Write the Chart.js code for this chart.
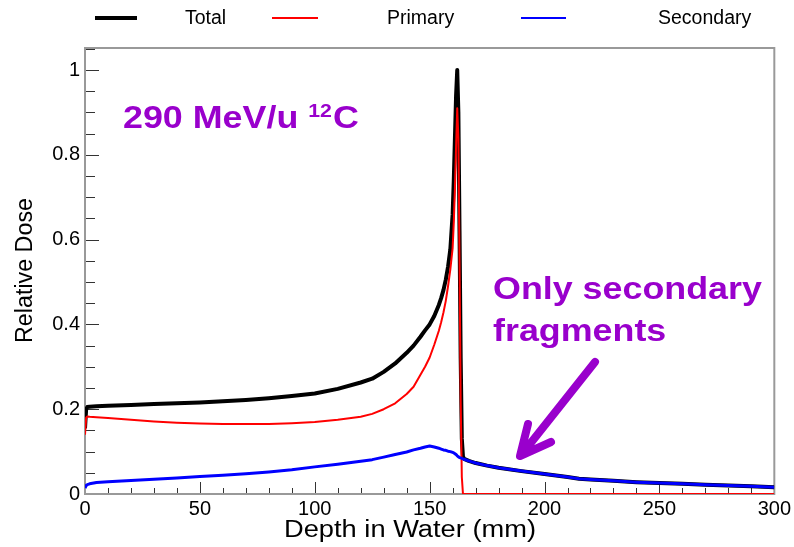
<!DOCTYPE html>
<html>
<head>
<meta charset="utf-8">
<script src="https://cdn.jsdelivr.net/npm/chart.js@4.4.1/dist/chart.umd.min.js"></script>
<style>
  html, body { margin: 0; padding: 0; background: #fff; }
  #wrap { width: 794px; height: 547px; }
</style>
</head>
<body>
<div id="wrap"><canvas id="c" width="794" height="547"></canvas></div>
<script>
// Depth-dose profile of a 290 MeV/u carbon beam in water
const depthMm = [0, 0.5, 1, 2, 5, 10, 20, 30, 40, 50,
  60, 70, 80, 90, 100, 110, 120, 125, 130, 135,
  140, 143, 146, 148, 150, 152, 154, 155, 156, 157,
  158, 159, 160, 160.5, 161, 161.5, 162, 162.5, 163, 163.5,
  164, 164.5, 165, 167, 170, 175, 180, 190, 200, 210,
  215, 220, 230, 240, 250, 260, 270, 280, 290, 300];

const totalDose = [0.155, 0.200, 0.205, 0.206, 0.207, 0.208, 0.210, 0.212, 0.214, 0.216,
  0.219, 0.222, 0.226, 0.231, 0.237, 0.248, 0.263, 0.272, 0.288, 0.308,
  0.333, 0.350, 0.371, 0.386, 0.400, 0.420, 0.446, 0.462, 0.481, 0.505,
  0.536, 0.577, 0.66, 0.74, 0.84, 0.94, 1.0, 0.90, 0.62, 0.32,
  0.13, 0.088, 0.083, 0.078, 0.073, 0.067, 0.062, 0.054, 0.047, 0.040,
  0.036, 0.034, 0.031, 0.028, 0.026, 0.024, 0.022, 0.020, 0.018, 0.016];

const primaryDose = [0.140, 0.180, 0.183, 0.182, 0.181, 0.179, 0.175, 0.171, 0.168, 0.166,
  0.165, 0.165, 0.165, 0.167, 0.170, 0.175, 0.182, 0.189, 0.200, 0.214,
  0.236, 0.253, 0.281, 0.300, 0.322, 0.352, 0.385, 0.405, 0.428, 0.455,
  0.490, 0.530, 0.58, 0.64, 0.72, 0.82, 0.91, 0.84, 0.55, 0.22,
  0.04, 0, 0, 0, 0, 0, 0, 0, 0, 0,
  0, 0, 0, 0, 0, 0, 0, 0, 0, 0];

const secondaryDose = [0.014, 0.020, 0.022, 0.024, 0.027, 0.029, 0.032, 0.035, 0.038, 0.041,
  0.044, 0.048, 0.052, 0.057, 0.064, 0.070, 0.077, 0.081, 0.087, 0.093,
  0.099, 0.104, 0.108, 0.111, 0.113, 0.111, 0.108, 0.106, 0.104, 0.103,
  0.101, 0.100, 0.098, 0.097, 0.095, 0.093, 0.090, 0.088, 0.086, 0.085,
  0.084, 0.083, 0.082, 0.078, 0.073, 0.067, 0.062, 0.054, 0.047, 0.040,
  0.036, 0.034, 0.031, 0.028, 0.026, 0.024, 0.022, 0.020, 0.018, 0.016];

const xTickLabels = [0, 50, 100, 150, 200, 250, 300];
const yTickLabels = [0, 0.2, 0.4, 0.6, 0.8, 1];
const xMinorStep = 10;
const yMinorStep = 0.05;

const FONT = '"Liberation Sans", Arial, Helvetica, sans-serif';
const PURPLE = '#9900cc';

const toPoints = vals => depthMm.map((d, i) => ({ x: d, y: vals[i] }));

// Text drawn with a horizontal stretch; returns the drawn width
function stretchedText(ctx, text, x, y, font, sx) {
  ctx.save();
  ctx.font = font;
  ctx.translate(x, y);
  ctx.scale(sx, 1);
  ctx.fillText(text, 0, 0);
  const w = ctx.measureText(text).width * sx;
  ctx.restore();
  return w;
}

// Frame, inward tick marks and axis titles
const frameTicks = {
  id: 'frameTicks',
  beforeDatasetsDraw(chart) {
    const { ctx, chartArea: a, scales: { x, y } } = chart;
    ctx.save();
    ctx.strokeStyle = '#333';
    ctx.lineWidth = 1;
    ctx.beginPath();
    for (let v = 0; v <= 300 + 1e-9; v += xMinorStep) {
      const px = Math.round(x.getPixelForValue(v)) + 0.5;
      const len = Math.abs(v % 50) < 1e-6 ? 12 : 6;
      ctx.moveTo(px, a.bottom);
      ctx.lineTo(px, a.bottom - len);
    }
    for (let i = 0; i * yMinorStep <= 1.05 + 1e-9; i++) {
      const v = i * yMinorStep;
      const py = Math.round(y.getPixelForValue(v)) + 0.5;
      const len = i % 4 === 0 ? 14 : 10;
      ctx.moveTo(a.left, py);
      ctx.lineTo(a.left + len, py);
    }
    ctx.stroke();
    ctx.strokeStyle = '#999';
    ctx.lineWidth = 2;
    ctx.strokeRect(a.left, a.top, a.right - a.left, a.bottom - a.top);
    ctx.restore();
  },
  afterDraw(chart) {
    const { ctx } = chart;
    ctx.save();
    ctx.fillStyle = '#000';
    ctx.textAlign = 'left';
    ctx.textBaseline = 'alphabetic';
    const titleFont = '23px ' + FONT;
    ctx.font = titleFont;

    const xTitle = 'Depth in Water (mm)';
    const sxX = 252 / ctx.measureText(xTitle).width;
    stretchedText(ctx, xTitle, 284, 537, titleFont, sxX);

    const yTitle = 'Relative Dose';
    const sxY = 145 / ctx.measureText(yTitle).width;
    ctx.translate(32, 343);
    ctx.rotate(-Math.PI / 2);
    stretchedText(ctx, yTitle, 0, 0, titleFont, sxY);
    ctx.restore();
  }
};

// Legend row across the top
const topLegend = {
  id: 'topLegend',
  afterDraw(chart) {
    const { ctx } = chart;
    const ds = chart.data.datasets;
    const slots = [
      { idx: 0, x0: 95, x1: 137, tx: 185, w: 4 },
      { idx: 1, x0: 272, x1: 318, tx: 387, w: 2 },
      { idx: 2, x0: 521, x1: 566, tx: 658, w: 2 }
    ];
    ctx.save();
    ctx.font = '19.5px ' + FONT;
    ctx.textBaseline = 'middle';
    ctx.textAlign = 'left';
    slots.forEach(s => {
      ctx.strokeStyle = ds[s.idx].borderColor;
      ctx.lineWidth = s.w;
      ctx.beginPath();
      ctx.moveTo(s.x0, 18);
      ctx.lineTo(s.x1, 18);
      ctx.stroke();
      ctx.fillStyle = '#000';
      ctx.fillText(ds[s.idx].label, s.tx, 19);
    });
    ctx.restore();
  }
};

// Beam label, note and arrow
const notes = {
  id: 'notes',
  afterDraw(chart) {
    const { ctx } = chart;
    const sx = 1.12;
    const big = 'bold 32px ' + FONT;
    ctx.save();
    ctx.fillStyle = PURPLE;
    ctx.textBaseline = 'alphabetic';
    ctx.textAlign = 'left';
    let x = 123;
    x += stretchedText(ctx, '290 MeV/u ', x, 128, big, sx);
    x += stretchedText(ctx, '12', x, 117, 'bold 19px ' + FONT, sx);
    stretchedText(ctx, 'C', x + 1, 128, big, sx);

    stretchedText(ctx, 'Only secondary', 493, 299, big, sx);
    stretchedText(ctx, 'fragments', 493, 341, big, sx);

    ctx.strokeStyle = PURPLE;
    ctx.lineWidth = 8;
    ctx.lineCap = 'round';
    ctx.lineJoin = 'round';
    ctx.beginPath();
    ctx.moveTo(595, 362);
    ctx.lineTo(522, 454);
    ctx.moveTo(528, 424);
    ctx.lineTo(520, 456);
    ctx.lineTo(551, 442);
    ctx.stroke();
    ctx.restore();
  }
};

new Chart(document.getElementById('c'), {
  type: 'line',
  data: {
    datasets: [
      { label: 'Total', data: toPoints(totalDose), borderColor: '#000000', borderWidth: 4, order: 2 },
      { label: 'Primary', data: toPoints(primaryDose), borderColor: '#ff0000', borderWidth: 2, order: 1 },
      { label: 'Secondary', data: toPoints(secondaryDose), borderColor: '#0000ff', borderWidth: 3, order: 0 }
    ]
  },
  options: {
    responsive: false,
    animation: false,
    elements: { point: { radius: 0 }, line: { tension: 0, borderJoinStyle: 'round' } },
    layout: { padding: { left: 0, right: 19, top: 48, bottom: 0 } },
    plugins: { legend: { display: false }, tooltip: { enabled: false } },
    scales: {
      x: {
        type: 'linear',
        min: 0, max: 300,
        afterFit(s) { s.height = 53; },
        afterBuildTicks(s) { s.ticks = xTickLabels.map(v => ({ value: v })); },
        grid: { display: false, drawTicks: false },
        border: { display: false },
        ticks: { color: '#000', font: { family: FONT, size: 20 }, padding: 3, maxRotation: 0, autoSkip: false,
          callback: v => String(v) }
      },
      y: {
        type: 'linear',
        min: 0, max: 1.052,
        afterFit(s) { s.width = 85; },
        afterBuildTicks(s) { s.ticks = yTickLabels.map(v => ({ value: v })); },
        grid: { display: false, drawTicks: false },
        border: { display: false },
        ticks: { color: '#000', font: { family: FONT, size: 20 }, padding: 5, autoSkip: false,
          callback: v => String(Number(v.toFixed(2))) }
      }
    }
  },
  plugins: [frameTicks, topLegend, notes]
});
</script>
</body>
</html>
